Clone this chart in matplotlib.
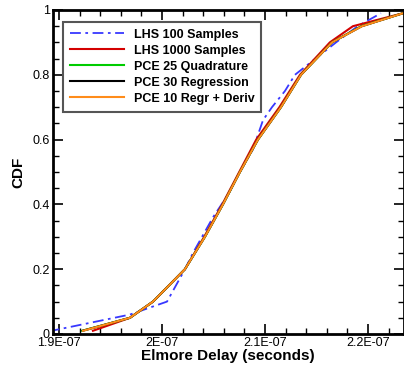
import numpy as np
import matplotlib.pyplot as plt
from matplotlib.ticker import MultipleLocator, FuncFormatter

plt.rcParams['font.family'] = ['Liberation Sans', 'DejaVu Sans']

cdf = [0.01, 0.05, 0.1, 0.2, 0.3, 0.4, 0.5, 0.6, 0.7, 0.8, 0.9, 0.95, 0.99]

lhs100_x = [1.890e-7, 1.9689e-7, 2.0049e-7, 2.0223e-7, 2.0301e-7, 2.0495e-7,
            2.0641e-7, 2.0757e-7, 2.0883e-7, 2.0981e-7, 2.1068e-7, 2.1194e-7,
            2.1291e-7, 2.1690e-7, 2.1900e-7, 2.2126e-7]
lhs100_cdf = [0.008, 0.06, 0.1, 0.2, 0.25, 0.36, 0.43, 0.5, 0.57, 0.66, 0.7,
              0.75, 0.8, 0.9, 0.95, 0.99]

lhs1000_x = [1.9330e-7, 1.9689e-7, 1.9913e-7, 2.0223e-7, 2.0410e-7, 2.0585e-7,
             2.0750e-7, 2.0915e-7, 2.1140e-7, 2.1340e-7, 2.1630e-7, 2.1854e-7,
             2.2340e-7]
pce25_x = [1.9225e-7, 1.9689e-7, 1.9913e-7, 2.0223e-7, 2.0417e-7, 2.0592e-7,
           2.0757e-7, 2.0932e-7, 2.1155e-7, 2.1350e-7, 2.1650e-7, 2.1935e-7,
           2.2340e-7]
pce30_x = [1.9230e-7, 1.9689e-7, 1.9913e-7, 2.0223e-7, 2.0417e-7, 2.0592e-7,
           2.0757e-7, 2.0932e-7, 2.1155e-7, 2.1350e-7, 2.1650e-7, 2.1940e-7,
           2.2340e-7]
pce10_x = [1.9233e-7, 1.9689e-7, 1.9913e-7, 2.0223e-7, 2.0417e-7, 2.0592e-7,
           2.0757e-7, 2.0932e-7, 2.1155e-7, 2.1350e-7, 2.1650e-7, 2.1942e-7,
           2.2340e-7]

labels = ['LHS 100 Samples', 'LHS 1000 Samples', 'PCE 25 Quadrature',
          'PCE 30 Regression', 'PCE 10 Regr + Deriv']
xticks = [1.9e-7, 2.0e-7, 2.1e-7, 2.2e-7]
xtick_labels = ['1.9E-07', '2E-07', '2.1E-07', '2.2E-07']

fig = plt.figure(figsize=(4.04, 3.67), dpi=100)
ax = fig.add_axes([52.5/404, 1-334/367, 351.5/404, 324/367])

ax.plot(lhs100_x, lhs100_cdf, color='#3838ff', lw=1.3, dashes=(6, 2.5, 1.5, 2.5),
        label=labels[0])
ax.plot(lhs1000_x, cdf, color='#d40000', lw=1.5, label=labels[1])
ax.plot(pce25_x, cdf, color='#00cc00', lw=1.5, label=labels[2])
ax.plot(pce30_x, cdf, color='black', lw=1.5, label=labels[3])
ax.plot(pce10_x, cdf, color='#ff8c1a', lw=1.5, label=labels[4])

ax.set_xlim(1.8937e-7, 2.2350e-7)
ax.set_ylim(0, 1)
ax.set_xticks(xticks)
ax.set_xticklabels(xtick_labels)
ax.xaxis.set_minor_locator(MultipleLocator(0.2e-8))
ax.yaxis.set_major_locator(MultipleLocator(0.2))
ax.yaxis.set_minor_locator(MultipleLocator(0.05))
ax.yaxis.set_major_formatter(FuncFormatter(lambda v, p: '%g' % round(v, 2)))

ax.tick_params(which='both', direction='in', top=True, right=True,
               labelsize=9, width=1.2, pad=2)
ax.tick_params(which='major', length=7)
ax.tick_params(which='minor', length=4, width=1)
for s in ax.spines.values():
    s.set_linewidth(2)

ax.set_xlabel('Elmore Delay (seconds)', fontsize=11, fontweight='bold', labelpad=0)
ax.set_ylabel('CDF', fontsize=11, fontweight='bold', labelpad=5)

leg = ax.legend(loc='upper left', bbox_to_anchor=(0.03, 0.963), fancybox=False,
                framealpha=1, edgecolor='#555555', prop={'weight': 'bold', 'size': 9},
                handlelength=4.3, handletextpad=0.8, labelspacing=0.32,
                borderpad=0.55, borderaxespad=0)
leg.get_frame().set_linewidth(1.5)

fig.savefig('out.png', dpi=100)
